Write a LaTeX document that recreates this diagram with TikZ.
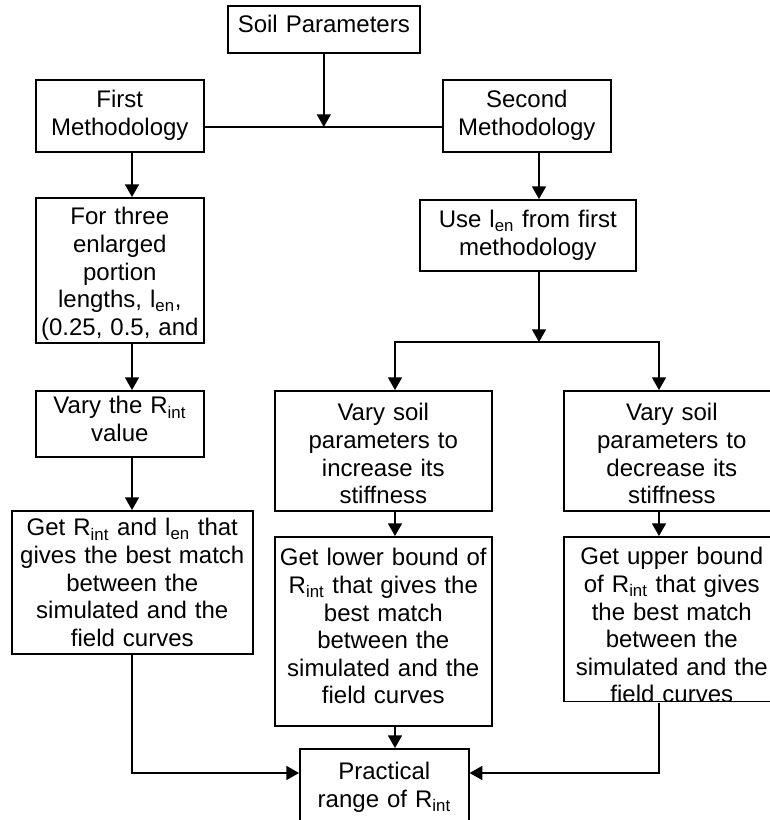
\documentclass[tikz,border=0pt]{standalone}
\usepackage{fontspec}
\setmainfont{Liberation Sans}
\usetikzlibrary{arrows.meta}

\tikzset{
  box/.style={draw, line width=1.2pt, anchor=north west, inner sep=0pt,
    align=center, font=\fontsize{18pt}{20.7pt}\selectfont, text height=20.25pt},
  flow/.style={line width=1.2pt, -{Triangle[length=9.5pt,width=10.5pt]}},
  wire/.style={line width=1.2pt},
}
\newcommand{\Rint}{R\textsubscript{int}}
\newcommand{\Len}{l\textsubscript{en}}

\begin{document}
\begin{tikzpicture}[x=0.75pt, y=-0.75pt]
\useasboundingbox (0,0) rectangle (769,820);
% lines the connectors run along
\coordinate (colA) at (132,0);
\coordinate (colC) at (395,0);
\coordinate (colD) at (539,0);
\coordinate (colE) at (659,0);
\coordinate (hrow) at (0,127);
\coordinate (split) at (0,342);
\coordinate (mrow) at (0,773);

\node[box, text width=144pt, text depth=15pt] (soil) at (227,5) {Soil Parameters};
\node[box, text width=126pt, text height=21pt, text depth=33pt] (first) at (35,79) {First\\Methodology};
\node[box, text width=126pt, text height=21pt, text depth=33pt] (second) at (442,79) {Second\\Methodology};

% first methodology
\node[box, text width=126pt, text depth=88.5pt] (three) at (35,197) {For three\\enlarged\\portion\\lengths, \Len,\\(0.25, 0.5, and};
\node[box, text width=126pt, text height=17.25pt, text depth=32.25pt] (varyr) at (35,390) {Vary the \Rint\\value};
\node[box, text width=180.75pt, text height=18.75pt, text depth=88.5pt] (getr) at (11,510) {Get \Rint{} and \Len{} that\\gives the best match\\between the\\simulated and the\\field curves};

% second methodology
\node[box, text width=162pt, text height=21pt, text depth=32.25pt] (use) at (419,199) {Use \Len{} from first\\methodology};
\node[box, text width=162.75pt, text height=22.5pt, text depth=67.5pt] (varyinc) at (274,390) {Vary soil\\parameters to\\increase its\\stiffness};
\node[box, text width=162pt, text height=22.5pt, text depth=67.5pt] (varydec) at (563,390) {Vary soil\\parameters to\\decrease its\\stiffness};
\node[box, text width=162.75pt, text height=21.75pt, text depth=120pt] (lower) at (274,536) {Get lower bound of\\\Rint{} that gives the\\best match\\between the\\simulated and the\\field curves};
\begin{scope}
\clip (562,535) rectangle (781,701.8);
\node[box, text width=162pt, text height=21pt, text depth=102.75pt] (upper) at (563,536) {Get upper bound\\of \Rint{} that gives\\the best match\\between the\\simulated and the\\field curves};
\end{scope}

\node[box, text width=126.75pt, text height=23.25pt, text depth=33.75pt] (practical) at (299,748) {Practical\\range of \Rint};

% connectors
\draw[wire] (first.east |- hrow) -- (second.west |- hrow);
\draw[flow] (soil.south) -- (soil.south |- hrow);
\draw[flow] (first.south -| colA) -- (three.north -| colA);
\draw[flow] (three.south -| colA) -- (varyr.north -| colA);
\draw[flow] (varyr.south -| colA) -- (getr.north -| colA);
\draw[flow] (second.south -| colD) -- (use.north -| colD);
\draw[flow] (use.south -| colD) -- (colD |- split);
\draw[flow] (colD |- split) -| (varyinc.north -| colC);
\draw[flow] (colD |- split) -| (varydec.north -| colE);
\draw[flow] (varyinc.south -| colC) -- (lower.north -| colC);
\draw[flow] (varydec.south -| colE) -- (upper.north -| colE);
\draw[flow] (lower.south -| colC) -- (practical.north -| colC);
\draw[flow] (getr.south -| colA) |- (practical.west |- mrow);
\draw[flow] (upper.south -| colE) |- (practical.east |- mrow);
\end{tikzpicture}
\end{document}
